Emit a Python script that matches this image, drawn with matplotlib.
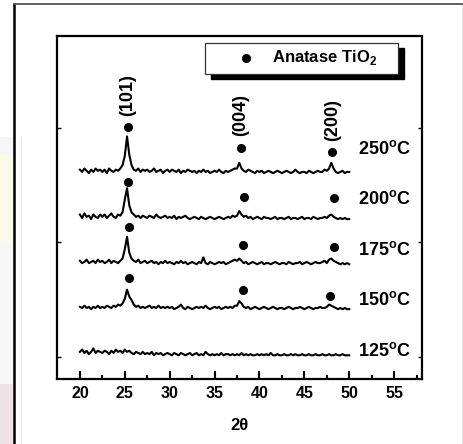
import matplotlib
matplotlib.use("Agg")

import  matplotlib.pyplot   as  plt
import  matplotlib.patches  as  mpatch
import  numpy   as  np


##############################################################
###------------------------data----------------------------###
##############################################################

two_theta       =   np.linspace(20.0, 50.0, 121)      # 0.25 deg steps

temp_labels     =   ["125", "150", "175", "200", "250"]
offsets         =   [1.5, 42.8, 82.0, 121.4, 161.6]

int_125 = [
    3, 5, 2, 4, 1, 3, 6, 2, 4, 3,
    2, 4, 3, 1, 4, 2, 5, 3, 4, 2,
    5, 3, 4, 2, 1, 3, 2, 1, 3, 1,
    2, 1, 3, 0, 2, 1, 2, 0, 1, 2,
    1, 0, 2, 1, 0, 2, 1, 0, 1, 2,
    0, 1, 2, 0, 1, 0, 3, 1, 0, 1,
    0, 1, 0, 2, 0, 1, 1, 0, 1, 0,
    1, 0, 2, 0, 1, 0, 1, 0, 0, 1,
    0, 1, 0, 1, 0, 2, 0, 0, 1, 0,
    0, 1, 0, 0, 1, 0, 1, 0, 0, 1,
    0, 0, 1, 0, 0, 1, 0, 0, 1, 0,
    0, 1, 0, 0, 1, 0, 0, 1, 0, 0,
    0]
int_150 = [
    1, 0, 2, 0, 1, -1, 1, 0, 2, 0,
    1, 0, 2, 1, 0, 2, 1, 3, 2, 4,
    8, 16, 10, 7, 3, 1, 2, 0, 1, 0,
    1, 2, 0, 1, 0, 2, 0, 1, 0, 1,
    0, 1, -1, 0, 1, 3, 0, -1, 1, 0,
    -1, 0, 1, 0, 1, 0, 2, 0, -1, 0,
    1, 0, 1, -1, 0, 1, 0, 1, 0, 2,
    2, 6, 4, 1, 0, 1, -1, 0, 1, 0,
    -1, 0, 1, 0, -1, 0, 1, 0, -1, 0,
    0, -1, 0, 1, 0, -1, 0, 0, 1, 0,
    -1, 0, 1, 0, -1, 0, 0, 1, 0, 0,
    1, 3, 2, 1, 0, -1, 0, -1, 0, -1,
    -1]
int_175 = [
    2, 0, 1, 3, 0, 1, 2, 0, 3, 1,
    2, 0, 1, 3, 0, 2, 1, 0, 2, 4,
    12, 23, 9, 4, 2, 1, 3, 0, 1, 2,
    0, 1, 2, 0, 1, -1, 1, 0, 2, 0,
    1, 0, -1, 1, 0, 2, 0, 1, -1, 0,
    1, 0, -1, 1, 0, 5, 0, -1, 1, 0,
    -1, 0, 1, 0, 1, -1, 0, 1, 2, 3,
    2, 4, 2, 0, 1, -1, 0, 1, 0, -1,
    0, 1, -1, 0, 0, -1, 0, 1, 0, -1,
    0, 0, -1, 1, 0, -1, 0, 0, 1, -1,
    0, 1, 0, -1, 0, 1, 0, 0, 1, 2,
    0, 3, 4, 2, 1, 0, -1, 0, -1, 0,
    -1]
int_200 = [
    3, 0, 4, 1, 2, -1, 3, 1, 0, 3,
    1, 3, 0, 2, 4, 1, 0, 3, 2, 5,
    16, 26, 11, 5, 3, 1, 2, 0, 2, 1,
    0, 2, 1, 0, 3, 1, 0, 1, 2, 0,
    1, 0, 2, -1, 1, 0, 1, 2, 0, -1,
    0, 1, 0, -1, 1, 0, -1, 0, 1, 0,
    -1, 0, 1, 0, -1, 0, 1, 0, 2, 1,
    2, 6, 3, 1, 2, 0, 1, -1, 0, 1,
    0, -1, 1, 0, 0, -1, 0, 1, -1, 0,
    0, -1, 0, 1, -1, 0, 0, -1, 0, 1,
    -1, 0, 0, -1, 1, 0, -1, 0, 0, 1,
    0, 2, 3, 1, 0, -1, 0, -1, 0, -1,
    -1]
int_250 = [
    2, 0, 3, 1, -1, 2, 0, 3, 1, 2,
    0, 2, -1, 3, 1, 0, 2, 1, 3, 6,
    14, 31, 15, 6, 2, 1, 3, 0, 2, 1,
    2, 0, 1, 3, 0, 1, 2, -1, 1, 2,
    0, 2, 1, 0, 2, -1, 1, 0, 2, 1,
    0, 1, -1, 1, 0, 2, 0, 1, -1, 0,
    1, 0, 2, 0, -1, 1, 0, 1, 2, 3,
    3, 8, 3, 1, 0, 2, 1, 0, -1, 1,
    0, 1, -1, 0, 1, 0, -1, 0, 1, 0,
    -1, 0, 1, 0, -1, 0, 2, 0, -1, 0,
    0, -1, 1, 0, -1, 0, 1, 0, 0, 2,
    1, 3, 8, 3, 0, -1, 0, 1, -1, 0,
    0]
intensities     =   [int_125, int_150, int_175, int_200, int_250]

###-----------------anatase_marker_points-----------------###
dot_x   =   [25.4, 37.9, 48.1,   25.4, 38.3, 48.3,   25.5, 38.2, 48.3,   25.5, 38.2, 47.9]
dot_y   =   [200.9, 182.5, 179.0, 153.1, 139.7, 138.6, 113.3, 98.1, 96.1, 69.0, 58.3, 53.3]

peak_names  =   ["(101)", "(004)", "(200)"]
peak_x      =   [25.3, 37.9, 48.1]
peak_y      =   [229, 211, 207]

label_y     =   [5.2, 49.8, 93.5, 138.3, 181.2]

x_ticks     =   [20, 25, 30, 35, 40, 45, 50, 55]


##############################################################
###---------------------plot_graph-------------------------###
##############################################################
plt.rcParams["font.family"]         =   ["Liberation Sans", "DejaVu Sans"]
plt.rcParams["font.weight"]         =   "bold"
plt.rcParams["mathtext.fontset"]    =   "custom"
plt.rcParams["mathtext.rm"]         =   "Liberation Sans:bold"
plt.rcParams["mathtext.bf"]         =   "Liberation Sans:bold"

fig = plt.figure(figsize=(4.64, 4.44), dpi=100, facecolor="white")

###----------------faint_background_marks------------------###
fig.patches.append(mpatch.Rectangle((0, 0), 14/464, 307/444, transform=fig.transFigure,
                                    facecolor="#f7f6f6", edgecolor="none", zorder=0))
fig.patches.append(mpatch.Rectangle((0, 200/444), 13/464, 90/444, transform=fig.transFigure,
                                    facecolor="#fbfae6", edgecolor="none", zorder=0))
fig.patches.append(mpatch.Rectangle((0, 0), 13/464, 60/444, transform=fig.transFigure,
                                    facecolor="#eee2e6", edgecolor="none", zorder=0))
fig.lines.append(plt.Line2D([21/464, 21/464], [0, 307/444], transform=fig.transFigure,
                            color="#eee6e8", lw=0.8))

###----------------------outer_frame------------------------###
fig.lines.append(plt.Line2D([14/464, 14/464], [0, 440/444], transform=fig.transFigure,
                            color="black", lw=1.8))
fig.lines.append(plt.Line2D([14/464, 1.0], [440/444, 440/444], transform=fig.transFigure,
                            color="#555555", lw=1.3))
fig.lines.append(plt.Line2D([463/464, 463/464], [0, 440/444], transform=fig.transFigure,
                            color="#333333", lw=0.9))

ax = fig.add_axes([57/464, 65/444, 365/464, 343/444])

for inten, off in zip(intensities, offsets):
    ax.plot(two_theta, np.array(inten) + off, color="black", lw=1.5)

ax.plot(dot_x, dot_y, "o", color="black", ms=5.5, ls="none")

for name, px, py in zip(peak_names, peak_x, peak_y):
    ax.text(px, py, name, rotation=90, ha="center", va="center", fontsize=13, fontweight="bold")

for t, ly in zip(temp_labels, label_y):
    ax.text(51.0, ly, t + r"$^{\mathrm{o}}$C", ha="left", va="center", fontsize=13, fontweight="bold")

###-------------------parameters_axes----------------------###
ax.set_xlim(17.45, 58.1)
ax.set_ylim(-19.2, 280.3)
ax.set_xticks(x_ticks)
ax.set_xticklabels([str(v) for v in x_ticks], fontweight="bold", fontsize=11.5)
ax.set_xticks(np.arange(17.5, 58.0, 2.5), minor=True)
ax.set_yticks([0, 100, 200])
ax.set_yticklabels([])
ax.tick_params(axis="x", which="major", direction="in", length=6, width=1.5, pad=5)
ax.tick_params(axis="x", which="minor", direction="in", length=3, width=1.5)
ax.tick_params(axis="y", which="major", direction="in", length=3, width=1.0, left=True, right=True)
for sp in ax.spines.values():
    sp.set_linewidth(1.6)

ax.set_xlabel("2θ", fontsize=12, fontweight="bold", labelpad=12)

###-------------------------legend--------------------------###
ax.add_patch(mpatch.Rectangle((0.4055 + 0.016, 0.889 - 0.015), 0.5285, 0.091,
                              transform=ax.transAxes, facecolor="black", edgecolor="black",
                              zorder=5, clip_on=False))
ax.add_patch(mpatch.Rectangle((0.4055, 0.889), 0.5285, 0.091,
                              transform=ax.transAxes, facecolor="white", edgecolor="#333333",
                              lw=0.9, zorder=6, clip_on=False))
ax.plot([0.518], [0.937], "o", color="black", ms=5.5, transform=ax.transAxes, zorder=7)
ax.text(0.589, 0.937, r"Anatase TiO$_{\mathrm{2}}$", transform=ax.transAxes,
        ha="left", va="center", fontsize=12, fontweight="bold", zorder=7)

plt.savefig("out.png", dpi=100)
